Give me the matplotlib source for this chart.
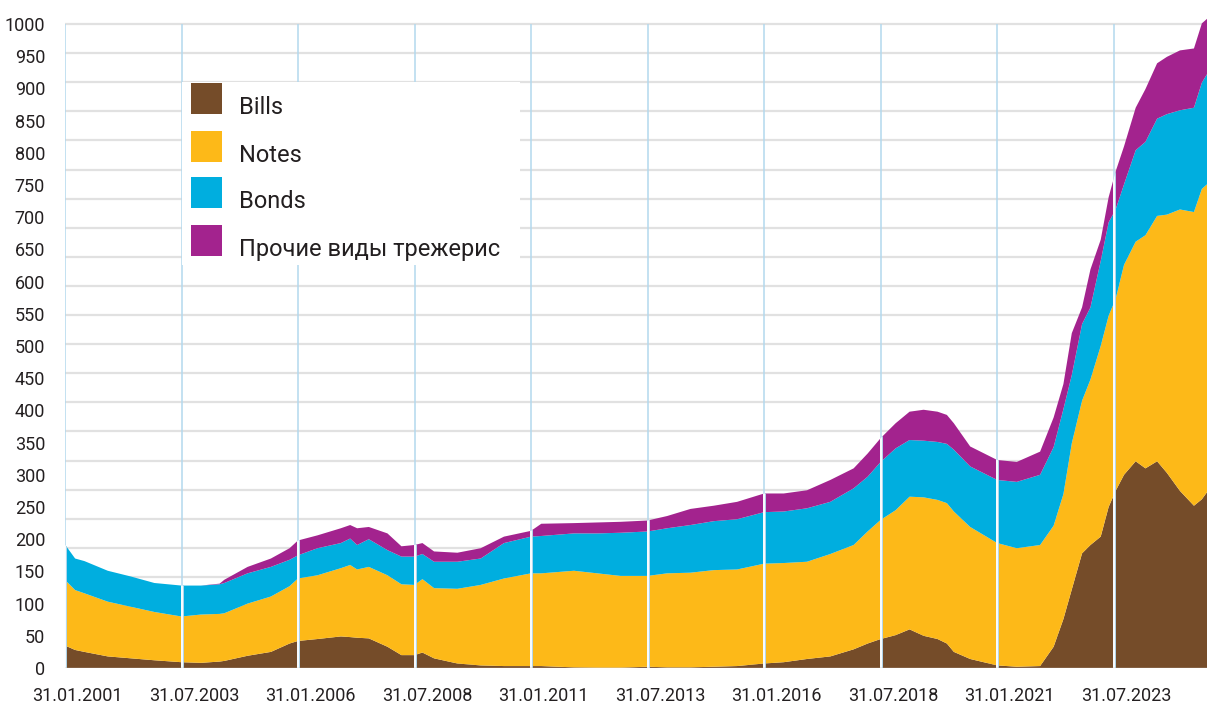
import numpy as np
import matplotlib
matplotlib.use("Agg")
import matplotlib.pyplot as plt
from matplotlib.patches import Polygon, Rectangle
from matplotlib.transforms import ScaledTranslation

plt.rcParams['font.family'] = ['Roboto', 'DejaVu Sans']

# Даты (доли года) и значения по видам бумаг
fechas = [2001.08, 2001.3, 2001.5, 2002.0, 2002.5, 2003.0, 2003.58, 2004.0, 2004.4, 2004.5,
          2005.0, 2005.5, 2005.9, 2006.08, 2006.5, 2007.0, 2007.2, 2007.35, 2007.6, 2008.0,
          2008.3, 2008.58, 2008.75, 2009.0, 2009.5, 2010.0, 2010.5, 2011.08, 2011.3, 2012.0,
          2012.5, 2013.0, 2013.58, 2014.0, 2014.5, 2015.0, 2015.5, 2016.08, 2016.5, 2017.0,
          2017.5, 2018.0, 2018.3, 2018.58, 2018.9, 2019.2, 2019.5, 2019.8, 2020.0, 2020.15,
          2020.5, 2021.08, 2021.5, 2022.0, 2022.29, 2022.5, 2022.68, 2022.9, 2023.08, 2023.3,
          2023.47, 2023.62, 2023.8, 2024.05, 2024.26, 2024.51, 2024.72, 2025.0, 2025.3, 2025.47,
          2025.58]

bills = [35, 28, 25, 18, 15, 12, 9, 8, 10, 11,
         19, 25, 38, 42, 45, 49, 48, 47, 46, 33,
         20, 20, 24, 15, 7, 4, 3, 3, 3, 1,
         0.5, 0.5, 2, 1, 1, 2, 3, 7, 9, 14,
         18, 29, 38, 45, 51, 60, 50, 45, 38, 25,
         14, 4, 2, 3, 33, 76, 122, 178, 191, 204,
         250, 275, 300, 321, 310, 321, 303, 275, 252, 262,
         273]

notes = [102, 93, 91, 85, 80, 75, 71, 75, 74, 74,
         81, 86, 89, 97, 99, 106, 112, 106, 111, 111,
         110, 109, 114, 109, 116, 125, 136, 144, 144, 150,
         146.5, 142.5, 141, 146, 147, 150, 150, 155, 154, 151,
         159, 162, 174, 185, 194, 206, 215, 216, 218, 218,
         205, 190, 184, 188, 188, 194, 227, 237, 257, 296,
         297, 298, 326, 341, 362, 381, 401, 437, 456, 482,
         478]

bonds = [55, 49, 50, 48, 47, 45, 48, 45, 46, 47,
         47, 46, 41, 36, 42, 39, 41, 38, 43, 39,
         43, 44, 39, 41, 42, 41, 55, 57, 58, 58,
         62, 67, 69, 70, 74, 76, 78, 80, 80, 83,
         81, 88, 85, 90, 96, 88, 88, 90, 92, 96,
         94, 98, 103, 109, 122, 132, 106, 119, 112, 132,
         145, 139, 125, 142, 145, 151, 156, 154, 162, 165,
         171]

otros = [0, 0, 0, 0, 0, 0, 0, 0, 1, 5,
         10, 13, 18, 23, 20, 23, 21, 26, 19, 26,
         16, 18, 17, 16, 14, 16, 10, 9, 19, 16,
         17, 17, 17, 19, 25, 24, 27, 29, 28, 28,
         34, 31, 36, 37, 39, 44, 48, 47, 45, 41,
         31, 31, 31, 36, 46, 39, 65, 26, 59, 33,
         39, 59, 59, 66, 82, 86, 89, 93, 92, 92,
         86]

series = ['Bills', 'Notes', 'Bonds', 'Прочие виды трежерис']
colores = ['#754C29', '#FDB918', '#00AEDF', '#A3238E']

ticks_x = [2001.083, 2003.583, 2006.083, 2008.583, 2011.083, 2013.583,
           2016.083, 2018.583, 2021.083, 2023.583]
etiquetas_x = ['31.01.2001', '31.07.2003', '31.01.2006', '31.07.2008', '31.01.2011',
               '31.07.2013', '31.01.2016', '31.07.2018', '31.01.2021', '31.07.2023']
ticks_y = list(range(0, 1001, 50))

W, H = 1207, 707
fig = plt.figure(figsize=(W / 100, H / 100), dpi=100)
ax = fig.add_axes([65 / W, 39 / H, 1142 / W, 668 / H])
ax.set_xlim(2001.083, 2025.58)
ax.set_ylim(0, 668 / 0.644)

# lineas horizontales grises (no coinciden con las etiquetas, como en el original)
for k in range(23):
    ax.axhline(1000 - k * 29.1 / 0.644, color='#E1E1E1', lw=1.6, zorder=0)

ax.stackplot(fechas, bills, notes, bonds, otros, colors=colores, lw=0, zorder=2)

total = np.array(bills) + np.array(notes) + np.array(bonds) + np.array(otros)
verts = [(fechas[0], 0)] + list(zip(fechas, total)) + [(fechas[-1], 0)]
zona = Polygon(verts, closed=True, transform=ax.transData)

# lineas verticales: celestes afuera, blancas sobre las areas
ax.vlines(ticks_x, 0, 1000, color='#B3D8EE', lw=1.1, zorder=3)
l1 = ax.vlines(ticks_x, 0, 1000, color='#B3D8EE', lw=2.1, zorder=4)
l1.set_clip_path(zona)
l2 = ax.vlines(ticks_x, 0, 1000, color='white', lw=1.3, zorder=5)
l2.set_clip_path(zona)

ax.axhline(0, color='#BFB5AE', lw=1, zorder=6)

for s in ax.spines.values():
    s.set_visible(False)

ax.set_xticks(ticks_x)
ax.set_xticklabels(etiquetas_x)
ax.set_yticks(ticks_y)
ax.set_yticklabels([str(v) for v in ticks_y])
ax.tick_params(axis='y', length=0, pad=14.4, labelsize=13, labelcolor='#231F20')
ax.tick_params(axis='x', length=0, pad=14, labelsize=13, labelcolor='#231F20')
for lbl in ax.get_xticklabels():
    lbl.set_transform(lbl.get_transform() + ScaledTranslation(0.125, 0, fig.dpi_scale_trans))

# leyenda hecha a mano
fig.add_artist(Rectangle((182 / W, 1 - 265 / H), 338 / W, 183 / H,
                         transform=fig.transFigure, facecolor='white',
                         edgecolor='none', zorder=10))
fondos = [114.3, 161.7, 208.3, 255.7]
for nombre, color, yb in zip(series, colores, fondos):
    fig.add_artist(Rectangle((191 / W, 1 - yb / H), 31 / W, 31 / H,
                             transform=fig.transFigure, facecolor=color,
                             edgecolor='none', zorder=11))
    fig.text(239 / W, 1 - yb / H, nombre, fontsize=17, color='#231F20',
             va='baseline', ha='left', zorder=12)

fig.savefig('out.png', dpi=100)
